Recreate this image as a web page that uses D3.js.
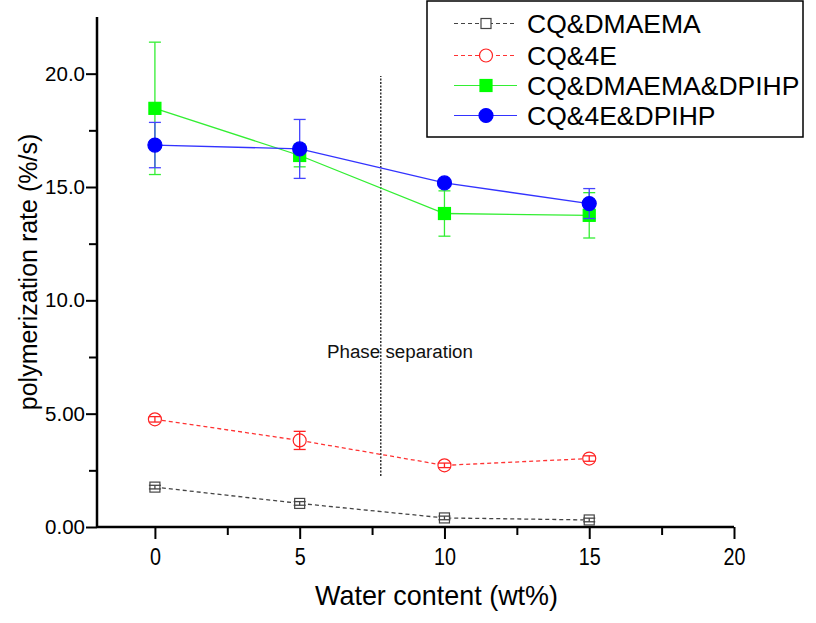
<!DOCTYPE html>
<html>
<head>
<meta charset="utf-8">
<script src="https://cdn.jsdelivr.net/npm/d3@7"></script>
<style>
  html, body { margin: 0; padding: 0; background: #fff; }
  svg { display: block; }
</style>
</head>
<body>
<svg id="chart" width="816" height="623"></svg>
<script>
// ---- data ----
const waterContent = [0, 5, 10, 15];
const seriesNames = ["CQ&DMAEMA", "CQ&4E", "CQ&DMAEMA&DPIHP", "CQ&4E&DPIHP"];
const cqDmaema = [1.76, 1.04, 0.40, 0.31];
const cqDmaemaErr = [0.08, 0.08, 0.08, 0.08];
const cq4e = [4.75, 3.82, 2.72, 3.02];
const cq4eErr = [0.12, 0.40, 0.10, 0.12];
const cqDmaemaDpihp = [18.47, 16.39, 13.83, 13.75];
const cqDmaemaDpihpErr = [2.92, 0.50, 1.00, 1.00];
const cq4eDpihp = [16.85, 16.68, 15.18, 14.27];
const cq4eDpihpErr = [1.00, 1.30, 0.05, 0.66];
const xTicks = [0, 5, 10, 15, 20];
const yTicks = [0, 5, 10, 15, 20];
const yTickLabels = ["0.00", "5.00", "10.0", "15.0", "20.0"];
const phaseX = 7.8;
const phaseY = [2.25, 19.9];
const phaseLabel = "Phase separation";
const xTitle = "Water content (wt%)";
const yTitle = "polymerization rate (%/s)";

const svg = d3.select("#chart");
const x = d3.scaleLinear().domain([-2, 20]).range([97, 734]);
const y = d3.scaleLinear().domain([0, 22.5]).range([527, 17]);

const series = [
  { name: seriesNames[0], v: cqDmaema, e: cqDmaemaErr, line: "#444", dash: "4,3", marker: "square", fill: "#fff", stroke: "#444", size: 10, lw: 1.3 },
  { name: seriesNames[1], v: cq4e, e: cq4eErr, line: "#ff3333", dash: "4,3", marker: "circle", fill: "#fff", stroke: "#ff2222", size: 13, lw: 1.3 },
  { name: seriesNames[2], v: cqDmaemaDpihp, e: cqDmaemaDpihpErr, line: "#33ee33", dash: null, marker: "square", fill: "#00ff00", stroke: "#00ff00", size: 12, lw: 1.3 },
  { name: seriesNames[3], v: cq4eDpihp, e: cq4eDpihpErr, line: "#3333ff", dash: null, marker: "circle", fill: "#0000ff", stroke: "#0000ff", size: 14, lw: 1.3 }
];

// phase separation line
svg.append("line")
  .attr("x1", x(phaseX)).attr("x2", x(phaseX))
  .attr("y1", y(phaseY[0])).attr("y2", y(phaseY[1]))
  .attr("stroke", "#333").attr("stroke-width", 1.5).attr("stroke-dasharray", "2,1.5");
svg.append("text")
  .attr("x", 327).attr("y", 358)
  .attr("font-family", "Liberation Sans, Arial, sans-serif")
  .attr("font-size", 18)
  .attr("textLength", 146).attr("lengthAdjust", "spacingAndGlyphs")
  .attr("fill", "#111")
  .text(phaseLabel);

// axes
const xAxis = d3.axisBottom(x).tickValues(xTicks).tickSize(12).tickFormat(d3.format("d"));
const gx = svg.append("g").attr("transform", "translate(0,527)").call(xAxis);
gx.select(".domain").attr("stroke", "#000").attr("stroke-width", 2.5).attr("d", `M${x(-2)},0H${x(20)}`);
gx.selectAll(".tick line").attr("stroke", "#000").attr("stroke-width", 2);
gx.selectAll(".tick text")
  .attr("font-family", "Liberation Sans, Arial, sans-serif")
  .attr("font-size", 24).attr("fill", "#000").attr("dy", null).attr("y", 38)
  .attr("textLength", d => String(d).length * 11).attr("lengthAdjust", "spacingAndGlyphs");
const xMinor = d3.axisBottom(x).tickValues([2.5, 7.5, 12.5, 17.5]).tickSize(8).tickFormat("");
const gxm = svg.append("g").attr("transform", "translate(0,527)").call(xMinor);
gxm.select(".domain").remove();
gxm.selectAll(".tick line").attr("stroke", "#000").attr("stroke-width", 2);

const yAxis = d3.axisLeft(y).tickValues(yTicks).tickSize(11).tickFormat((d, i) => yTickLabels[i]);
const gy = svg.append("g").attr("transform", "translate(97,0)").call(yAxis);
gy.select(".domain").attr("stroke", "#000").attr("stroke-width", 2.5).attr("d", `M0,${y(0)}V${y(22.5)}`);
gy.selectAll(".tick line").attr("stroke", "#000").attr("stroke-width", 2);
gy.selectAll(".tick text")
  .attr("font-family", "Liberation Sans, Arial, sans-serif")
  .attr("font-size", 20.5).attr("fill", "#000").attr("x", -12);
const yMinor = d3.axisLeft(y).tickValues([2.5, 7.5, 12.5, 17.5]).tickSize(8).tickFormat("");
const gym = svg.append("g").attr("transform", "translate(97,0)").call(yMinor);
gym.select(".domain").remove();
gym.selectAll(".tick line").attr("stroke", "#000").attr("stroke-width", 2);

// axis titles
svg.append("text")
  .attr("x", 315).attr("y", 605)
  .attr("font-family", "Liberation Sans, Arial, sans-serif")
  .attr("font-size", 28).attr("fill", "#000")
  .attr("textLength", 243).attr("lengthAdjust", "spacingAndGlyphs")
  .text(xTitle);
svg.append("text")
  .attr("transform", `translate(37,${272}) rotate(-90)`)
  .attr("text-anchor", "middle")
  .attr("font-family", "Liberation Sans, Arial, sans-serif")
  .attr("font-size", 25).attr("fill", "#000")
  .text(yTitle);

// series
function drawMarker(g, s, cx, cy) {
  if (s.marker === "square") {
    g.append("rect").attr("x", cx - s.size / 2).attr("y", cy - s.size / 2)
      .attr("width", s.size).attr("height", s.size)
      .attr("fill", s.fill).attr("stroke", s.stroke).attr("stroke-width", 1.2);
  } else {
    g.append("circle").attr("cx", cx).attr("cy", cy).attr("r", s.size / 2)
      .attr("fill", s.fill).attr("stroke", s.stroke).attr("stroke-width", 1.2);
  }
}

const line = d3.line().x((d, i) => x(waterContent[i])).y(d => y(d));
series.forEach(s => {
  const g = svg.append("g");
  g.append("path").attr("d", line(s.v)).attr("fill", "none")
    .attr("stroke", s.line).attr("stroke-width", s.lw)
    .attr("stroke-dasharray", s.dash);
  const filled = s.fill !== "#fff";
  s.v.forEach((v, i) => {
    const cx = x(waterContent[i]);
    const drawErr = () => {
      const col = s.stroke === "#0000ff" ? "#4444ff" : (s.stroke === "#00ff00" ? "#33ee33" : s.stroke);
      g.append("line").attr("x1", cx).attr("x2", cx).attr("y1", y(v - s.e[i])).attr("y2", y(v + s.e[i]))
        .attr("stroke", col).attr("stroke-width", 1.3);
      [v - s.e[i], v + s.e[i]].forEach(t => g.append("line")
        .attr("x1", cx - 6).attr("x2", cx + 6).attr("y1", y(t)).attr("y2", y(t))
        .attr("stroke", col).attr("stroke-width", 1.3));
    };
    if (filled) { drawErr(); drawMarker(g, s, cx, y(v)); }
    else { drawMarker(g, s, cx, y(v)); drawErr(); }
  });
});

// legend
const lg = svg.append("g");
lg.append("rect").attr("x", 427).attr("y", 1).attr("width", 376).attr("height", 136)
  .attr("fill", "#fff").attr("stroke", "#000").attr("stroke-width", 1.5);
const legY = [23.5, 55.5, 85.5, 115.5];
series.forEach((s, i) => {
  const ly = legY[i];
  lg.append("line").attr("x1", 454).attr("x2", 517).attr("y1", ly).attr("y2", ly)
    .attr("stroke", s.line).attr("stroke-width", 1.2).attr("stroke-dasharray", s.dash);
  drawMarker(lg, s, 486, ly);
  lg.append("text").attr("x", 527).attr("y", ly + 9.5)
    .attr("font-family", "Liberation Sans, Arial, sans-serif")
    .attr("font-size", 26.5).attr("fill", "#000")
    .text(s.name);
});
</script>
</body>
</html>
